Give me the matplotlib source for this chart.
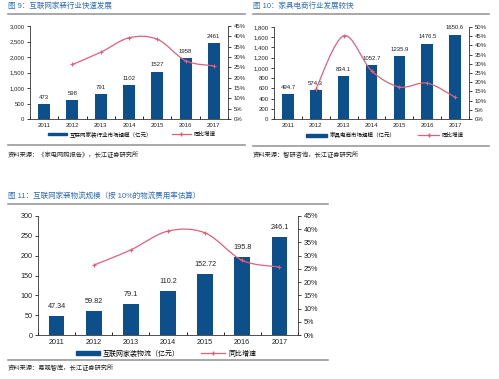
import numpy as np
import matplotlib
matplotlib.use('Agg')
import matplotlib.pyplot as plt
from matplotlib.path import Path
from matplotlib.patches import PathPatch, Patch
from matplotlib.lines import Line2D
from matplotlib.ticker import FuncFormatter, MultipleLocator, FixedLocator

plt.rcParams['font.family'] = ['Liberation Sans', 'Noto Sans CJK SC', 'DejaVu Sans']

# ---- data ----
years = ['2011', '2012', '2013', '2014', '2015', '2016', '2017']

# 图9 互联网家装行业市场规模（亿元）
home_deco = [473, 598, 791, 1102, 1527, 1958, 2461]
home_deco_growth = [None, 26.4, 32.3, 39.3, 38.6, 28.2, 25.7]

# 图10 家具电商市场规模（亿元）
furniture = [494.7, 574.3, 834.1, 1052.7, 1235.9, 1476.5, 1650.6]
furniture_growth = [None, 16.1, 45.2, 26.2, 17.4, 19.5, 11.8]

# 图11 互联网家装物流（亿元）
logistics = [47.34, 59.82, 79.1, 110.2, 152.72, 195.8, 246.1]
logistics_labels = ['47.34', '59.82', '79.1', '110.2', '152.72', '195.8', '246.1']
logistics_growth = [None, 26.4, 32.2, 39.3, 38.6, 28.2, 25.7]

BAR = '#0d4f8b'
LINE = '#e0607a'
TITLE = '#2e6db4'
RULE = '#9a9a9a'
TXT = '#222222'

W, H = 499, 379
fig = plt.figure(figsize=(W / 100, H / 100), dpi=100)


def rect(x0, y0, x1, y1):
    return [x0 / W, 1 - y1 / H, (x1 - x0) / W, (y1 - y0) / H]


def rule(x0, x1, y, lw=1.2):
    fig.add_artist(Line2D([x0 / W, x1 / W], [1 - y / H, 1 - y / H],
                          color=RULE, lw=lw, transform=fig.transFigure))


def ftext(x, y, s, size, color=TXT, **kw):
    fig.text(x / W, 1 - y / H, s, fontsize=size, color=color, va='center', **kw)


def smooth_line(ax, xs, ys):
    pts = np.array([(x, y) for x, y in zip(xs, ys) if y is not None], dtype=float)
    n = len(pts)
    verts = [pts[0]]
    codes = [Path.MOVETO]
    for i in range(n - 1):
        p0 = pts[max(i - 1, 0)]
        p1 = pts[i]
        p2 = pts[i + 1]
        p3 = pts[min(i + 2, n - 1)]
        verts += [p1 + (p2 - p0) / 6, p2 - (p3 - p1) / 6, p2]
        codes += [Path.CURVE4] * 3
    ax.add_patch(PathPatch(Path(verts, codes), fill=False, edgecolor=LINE, lw=0.9))
    ax.plot(pts[:, 0], pts[:, 1], linestyle='none', marker='+', ms=3, mew=0.8, color=LINE)


def chart(box, vals, labels, growth, ymax, ystep, rmax, fs, comma, lab_off):
    x = np.arange(len(years))
    ax = fig.add_axes(rect(*box))
    ax.bar(x, vals, width=0.42, color=BAR)
    ax.set_xlim(-0.5, len(years) - 0.5)
    ax.set_ylim(0, ymax)
    ax.yaxis.set_major_locator(MultipleLocator(ystep))
    if comma:
        ax.yaxis.set_major_formatter(FuncFormatter(lambda v, p: f'{v:,.0f}'))
    ax.set_xticks(x)
    ax.set_xticklabels(years)
    ax.xaxis.set_minor_locator(FixedLocator(np.arange(-0.5, len(years), 1.0)))
    ax.tick_params(axis='x', which='major', length=0, labelsize=fs, pad=3, colors=TXT)
    ax.tick_params(axis='x', which='minor', length=2, direction='in', width=0.6)
    ax.tick_params(axis='y', length=2, width=0.6, labelsize=fs, pad=2, colors=TXT)
    for s in ['top', 'right']:
        ax.spines[s].set_visible(False)
    for s in ['left', 'bottom']:
        ax.spines[s].set_linewidth(0.6)
        ax.spines[s].set_color('#333333')
    for xi, v, lab in zip(x, vals, labels):
        ax.text(xi, v + ymax * lab_off, lab, ha='center', va='bottom', fontsize=fs, color=TXT)

    ax2 = ax.twinx()
    ax2.set_ylim(0, rmax)
    ax2.yaxis.set_major_locator(MultipleLocator(5))
    ax2.yaxis.set_major_formatter(FuncFormatter(lambda v, p: f'{v:.0f}%'))
    ax2.tick_params(axis='y', length=2, width=0.6, labelsize=fs, pad=2, colors=TXT)
    for s in ['top', 'left', 'bottom']:
        ax2.spines[s].set_visible(False)
    ax2.spines['right'].set_linewidth(0.6)
    ax2.spines['right'].set_color('#333333')
    smooth_line(ax2, x, growth)
    return ax


def legend(cx, y, label, fs, bar_len, colsp):
    handles = [Patch(color=BAR, label=label),
               Line2D([], [], color=LINE, lw=0.9, marker='+', ms=3, label='同比增速')]
    fig.legend(handles=handles, loc='center', bbox_to_anchor=(cx / W, 1 - y / H),
               ncol=2, frameon=False, fontsize=fs, handlelength=bar_len,
               handleheight=0.45, handletextpad=0.5, columnspacing=colsp,
               borderpad=0, borderaxespad=0)


# ---- 图9 ----
ftext(8, 6, '图 9：互联网家装行业快速发展', 5.4, TITLE)
rule(8, 245, 14)
chart((30, 26, 228, 119), home_deco, [str(v) for v in home_deco], home_deco_growth,
      3000, 500, 45, 4.3, True, 0.045)
legend(132, 134, '互联网家装行业市场规模（亿元）', 4.0, 3.4, 3.5)
rule(8, 245, 145)
ftext(8, 155, '资料来源：《家电网购报告》，长江证券研究所', 4.5)

# ---- 图10 ----
ftext(253, 6, '图 10：家具电商行业发展较快', 5.4, TITLE)
rule(253, 489, 14)
chart((274, 27, 469, 119), furniture, [f'{v:.1f}' for v in furniture], furniture_growth,
      1800, 200, 50, 4.3, True, 0.045)
legend(385, 135, '家具电商市场规模（亿元）', 4.0, 3.8, 4.0)
rule(253, 489, 146)
ftext(253, 155, '资料来源：智研咨询，长江证券研究所', 4.5)

# ---- 图11 ----
ftext(8, 196, '图 11：互联网家装物流规模（按 10%的物流费用率估算）', 5.4, TITLE)
rule(8, 328, 204)
chart((38, 216, 298, 335), logistics, logistics_labels, logistics_growth,
      300, 50, 45, 5.2, False, 0.05)
legend(166, 354, '互联网家装物流（亿元）', 5.0, 3.4, 3.0)
rule(8, 328, 360)
ftext(8, 368, '资料来源：易观智库，长江证券研究所', 4.5)

fig.savefig('out.png', dpi=100, facecolor='white')
